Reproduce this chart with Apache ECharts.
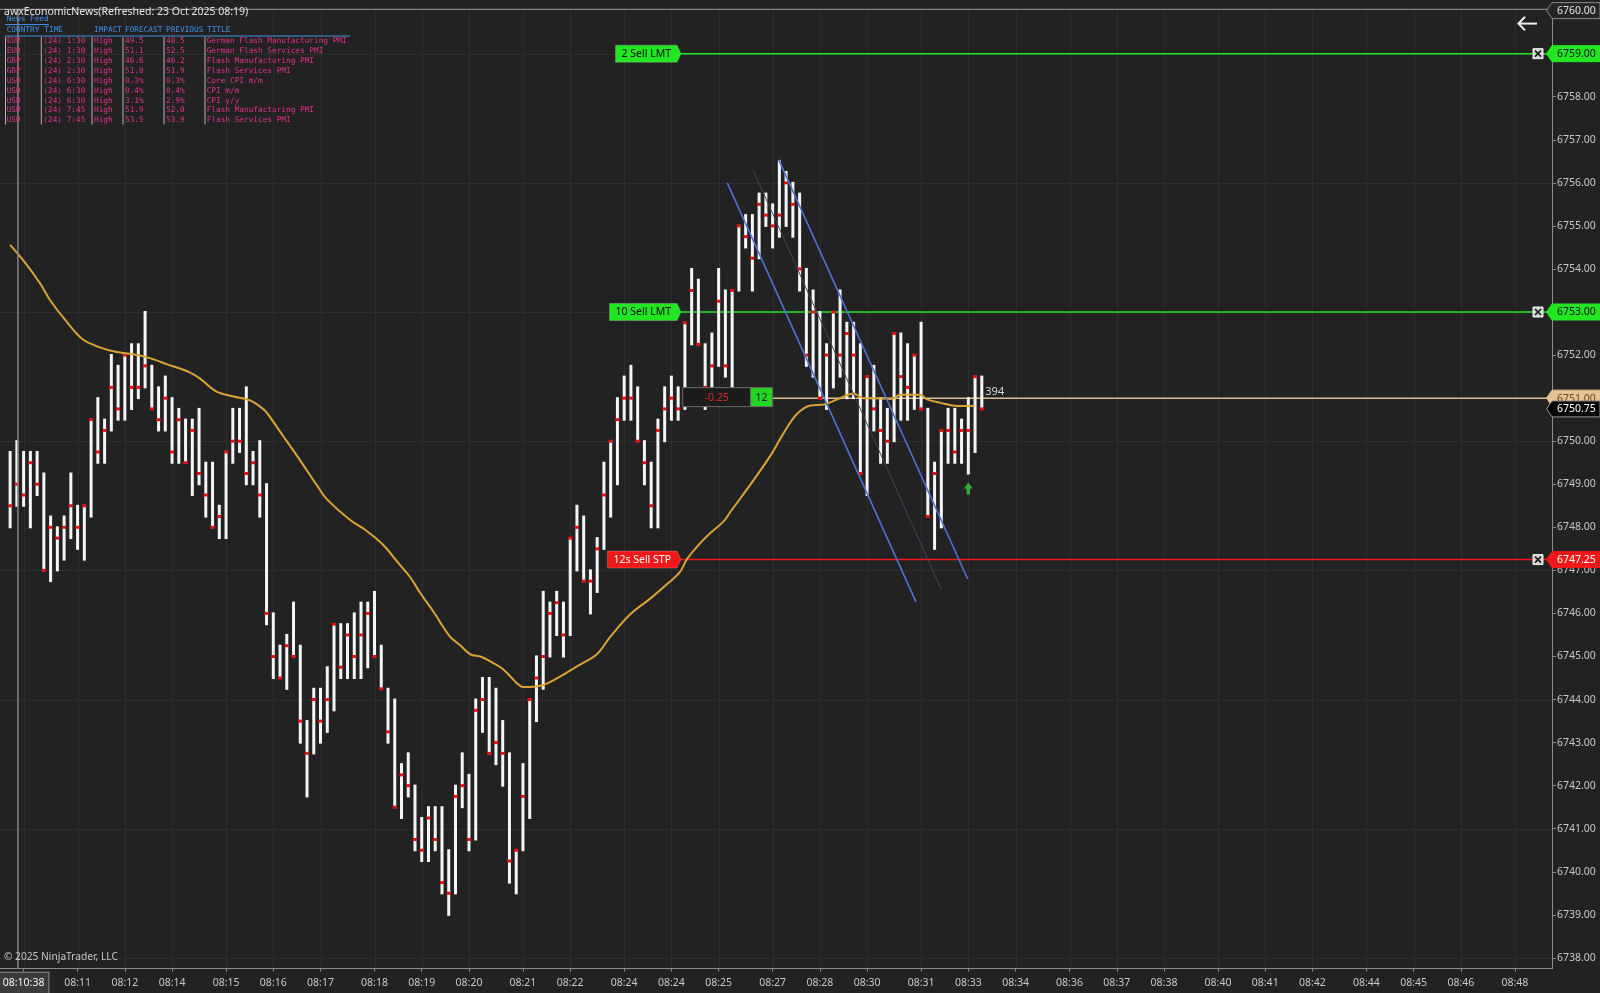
<!DOCTYPE html>
<html>
<head>
<meta charset="utf-8">
<script src="https://cdn.jsdelivr.net/npm/echarts@6/dist/echarts.min.js"></script>
<style>
html,body{margin:0;padding:0;background:#222222;}
#chart{width:1600px;height:993px;}
</style>
</head>
<body>
<div id="chart"></div>
<script>
// ---------------- DATA ----------------
const highs = [6749.75,6750.0,6749.75,6749.75,6749.75,6749.25,6748.25,6748.0,6748.25,6749.25,
6748.5,6748.5,6750.5,6751.0,6750.5,6752.0,6751.75,6752.0,6752.25,6752.25,
6753.0,6751.75,6751.25,6751.5,6751.0,6750.75,6750.5,6750.5,6750.75,6749.5,
6749.5,6748.5,6749.75,6750.75,6750.75,6751.25,6749.75,6750.0,6749.0,6746.0,
6745.25,6745.5,6746.25,6745.25,6743.5,6744.25,6744.25,6744.75,6745.75,6745.75,
6745.75,6746.0,6746.25,6746.25,6746.5,6745.25,6744.25,6744.0,6742.5,6742.75,
6742.0,6741.25,6741.5,6741.5,6741.5,6740.5,6742.0,6742.75,6742.25,6744.0,
6744.5,6744.5,6744.25,6743.5,6742.75,6740.5,6742.5,6744.0,6745.0,6746.5,
6746.25,6746.5,6746.25,6747.75,6748.5,6748.25,6747.0,6747.75,6749.5,6750.0,
6751.0,6751.5,6751.75,6751.25,6750.0,6749.5,6750.5,6751.25,6751.5,6751.25,
6752.75,6754.0,6753.75,6752.25,6752.5,6754.0,6753.5,6753.5,6755.0,6755.25,
6755.25,6755.75,6755.75,6755.5,6756.5,6756.25,6756.0,6755.75,6754.0,6753.5,
6753.0,6752.25,6753.0,6753.5,6752.75,6752.75,6752.25,6751.5,6751.75,6751.0,
6750.75,6752.5,6752.5,6752.25,6752.0,6752.75,6750.75,6749.5,6750.25,6750.75,
6750.75,6750.5,6751.0,6751.5,6751.5];
const lows = [6748.0,6748.5,6748.5,6748.0,6748.75,6747.0,6746.75,6747.0,6747.25,6747.75,
6747.5,6747.25,6748.25,6749.5,6749.5,6750.25,6750.5,6750.5,6750.75,6751.0,
6751.25,6750.75,6750.25,6750.25,6749.5,6749.5,6749.5,6748.75,6749.0,6748.25,
6748.0,6747.75,6747.75,6749.5,6749.75,6749.0,6749.0,6748.25,6745.75,6744.5,
6744.5,6744.25,6745.0,6743.0,6741.75,6742.75,6743.0,6743.25,6743.75,6744.5,
6744.5,6744.5,6744.5,6744.75,6745.0,6744.25,6743.0,6741.5,6741.25,6741.75,
6740.5,6740.25,6740.25,6740.5,6739.5,6739.0,6739.5,6741.5,6740.5,6740.75,
6743.25,6742.75,6742.5,6742.0,6739.75,6739.5,6740.5,6741.25,6743.5,6744.25,
6745.0,6745.5,6745.0,6745.5,6747.0,6746.75,6746.0,6746.5,6747.5,6748.25,
6749.0,6750.5,6750.5,6750.0,6749.0,6748.0,6748.0,6750.0,6750.5,6750.5,
6750.75,6752.25,6752.25,6750.75,6751.25,6751.75,6751.5,6751.25,6753.5,6754.5,
6753.5,6754.25,6755.0,6754.5,6754.75,6755.0,6754.75,6753.5,6751.75,6751.5,
6751.0,6750.75,6751.25,6751.5,6751.0,6751.0,6749.25,6748.75,6750.25,6749.5,
6749.5,6750.0,6750.5,6750.5,6750.75,6750.75,6748.25,6747.5,6748.0,6749.5,
6749.5,6749.5,6749.25,6749.75,6750.75];
const closes = [6748.5,6749.0,6748.75,6749.5,6749.0,6747.0,6748.0,6747.75,6748.0,6748.5,
6748.0,6748.5,6750.5,6749.75,6750.25,6751.25,6750.75,6752.0,6751.25,6751.25,
6751.75,6750.75,6750.5,6751.0,6749.75,6750.5,6749.5,6750.25,6749.25,6748.75,
6748.0,6748.25,6749.75,6750.0,6750.0,6749.25,6749.5,6748.75,6746.0,6745.0,
6744.5,6745.25,6745.0,6743.5,6742.75,6744.0,6743.5,6744.0,6745.75,6744.75,
6745.5,6745.0,6745.5,6746.0,6745.0,6744.25,6743.25,6741.5,6742.25,6742.0,
6740.75,6740.5,6741.25,6740.75,6739.75,6739.5,6741.75,6742.0,6740.75,6743.75,
6744.0,6742.75,6743.0,6742.75,6740.25,6740.5,6741.75,6744.0,6744.5,6745.0,
6746.0,6746.25,6745.5,6747.75,6748.0,6746.75,6746.75,6747.5,6748.75,6750.0,
6750.5,6751.0,6751.0,6750.0,6749.5,6748.5,6750.25,6750.75,6751.0,6750.75,
6752.75,6753.5,6752.25,6751.25,6751.75,6753.25,6751.75,6753.5,6755.0,6754.75,
6754.25,6755.5,6755.25,6755.0,6755.25,6756.0,6755.5,6754.0,6752.0,6753.0,
6751.0,6752.0,6753.0,6752.0,6752.5,6752.0,6749.25,6751.5,6750.75,6750.25,
6750.0,6752.5,6751.5,6751.25,6752.0,6750.75,6748.25,6749.25,6750.25,6750.25,
6749.75,6750.25,6750.25,6751.5,6750.75];

// moving average, read at sampled bar positions
const maBars = [0,2.3,4.5,5.9,8.4,10.8,13.3,15.8,18.2,20.7,23.2,26.6,28.1,30.6,33.1,35.5,37.0,38.0,40.5,43.0,
45.4,46.9,50.4,52.9,55.3,57.8,59.3,60.8,62.7,65.2,66.7,68.2,69.7,71.1,73.1,75.1,76.1,78.6,81.0,84.0,
87.0,88.9,91.9,94.9,97.8,99.3,100.3,101.8,103.3,105.8,106.7,109.7,112.7,114.6,116.6,118.6,120.6,122.6,125.0,126.5,
128.0,130.5,132.0,134.9,135.9,137.9,140.4,142.9];
const maValues = [6754.56,6754.13,6753.65,6753.28,6752.77,6752.36,6752.18,6752.07,6752.02,6751.93,6751.79,6751.60,6751.46,6751.15,6751.04,6750.95,6750.81,6750.67,6750.11,6749.55,
6748.99,6748.66,6748.17,6747.91,6747.59,6747.12,6746.84,6746.47,6746.05,6745.46,6745.26,6745.05,6745.00,6744.89,6744.70,6744.38,6744.29,6744.32,6744.49,6744.77,
6745.06,6745.45,6745.98,6746.35,6746.74,6746.97,6747.26,6747.55,6747.80,6748.15,6748.35,6748.99,6749.67,6750.18,6750.63,6750.83,6750.85,6750.97,6751.11,6751.00,
6751.00,6750.98,6751.08,6751.08,6750.97,6750.89,6750.82,6750.82];

const tickBars = [2,10,17,24,32,39,46,54,61,68,76,83,91,98,105,113,120,127,135,142,149,157,164,171,179,186,193,201,208,215,223];
const tickLabels = ['08:10:38','08:11','08:12','08:14','08:15','08:16','08:17','08:18','08:19','08:20','08:21','08:22','08:24','08:24','08:25','08:27','08:28','08:30','08:31','08:33','08:34','08:36','08:37','08:38','08:40','08:41','08:42','08:44','08:45','08:46','08:48'];
const priceLabels = [6738,6739,6740,6741,6742,6743,6744,6745,6746,6747,6748,6749,6750,6751,6752,6753,6754,6755,6756,6757,6758,6759];
const gridLevels = [6738,6741,6744,6747,6750,6753,6756,6759];

const orderNames = ['2 Sell LMT','10 Sell LMT','12s Sell STP'];
const orderPrices = [6759.00, 6753.00, 6747.25];
const positionPrice = 6751.00, positionPnl = '-0.25', positionQty = '12';
const lastPrice = 6750.75, axisTopPrice = 6760.00, tickCounter = '394';

// drawn channel (bar index, price)
const channelStartBar = [106.28, 113.9, 110.13];
const channelStartPrice = [6756.0, 6756.54, 6756.29];
const channelEndBar = [134.24, 141.91, 138.05];
const channelEndPrice = [6746.27, 6746.80, 6746.54];

const signalBars = [142];
const signalPrices = [6748.9];
const crosshairBar = 1.15;
const orderTagBar = 99.42;
const positionLineBar = 113.0;

const newsCountry = ['EUR','EUR','GBP','GBP','USD','USD','USD','USD','USD'];
const newsTime = ['(24) 1:30','(24) 1:30','(24) 2:30','(24) 2:30','(24) 6:30','(24) 6:30','(24) 6:30','(24) 7:45','(24) 7:45'];
const newsImpact = ['High','High','High','High','High','High','High','High','High'];
const newsForecast = ['49.5','51.1','46.6','51.0','0.3%','0.4%','3.1%','51.9','53.5'];
const newsPrevious = ['48.5','52.5','46.2','51.9','0.3%','0.4%','2.9%','52.0','53.9'];
const newsTitle = ['German Flash Manufacturing PMI','German Flash Services PMI','Flash Manufacturing PMI','Flash Services PMI','Core CPI m/m','CPI m/m','CPI y/y','Flash Manufacturing PMI','Flash Services PMI'];
const newsHeaders = ['COUNTRY','TIME','IMPACT','FORECAST','PREVIOUS','TITLE'];

// ---------------- LAYOUT / STYLE ----------------
const BAR_OFFSET = 1.5;     // bar i sits in slot i+1 of the x scale
const SLOTS = 230;
const GRID_RIGHT = 48;
const FONT = '"Segoe UI","Noto Sans","Open Sans",sans-serif';
const MONO = '"DejaVu Sans Mono","Liberation Mono",monospace';
const AXIS_COLOR = '#8c8c8c';
const TEXT_COLOR = '#c8c8c8';
const GRID_COLOR = '#2e2e2e';
const FS = 10.5;

const chart = echarts.init(document.getElementById('chart'), null, {renderer:'canvas'});

const barData = highs.map((h, i) => [i + BAR_OFFSET, h, lows[i], closes[i]]);
const tickValues = tickBars.map(b => b + BAR_OFFSET);

function lineSeries(points, color, width, z) {
  return {type:'line', data: points, symbol:'none', silent:true, animation:false, z: z,
          lineStyle:{color: color, width: width}, xAxisIndex:0, yAxisIndex:0};
}

const series = [
  {type:'custom', z:0, silent:true, animation:false,
   data: gridLevels.map(p => [0, p]),
   renderItem(params, api) {
     const cs = params.coordSys; const y = Math.round(api.coord([0, api.value(1)])[1]) + 0.5;
     return {type:'line', shape:{x1:cs.x, y1:y, x2:cs.x+cs.width, y2:y}, style:{stroke:GRID_COLOR, lineWidth:1}};
   }},
  {type:'custom', z:0, silent:true, animation:false,
   data: tickValues.map(v => [v, 6750]),
   renderItem(params, api) {
     const cs = params.coordSys; const x = Math.round(api.coord([api.value(0), 6750])[0]) + 0.5;
     return {type:'line', shape:{x1:x, y1:cs.y, x2:x, y2:cs.y+cs.height}, style:{stroke:GRID_COLOR, lineWidth:1}};
   }},
  lineSeries([[orderTagBar + BAR_OFFSET, orderPrices[0]],[SLOTS, orderPrices[0]]], '#22e622', 1.5, 2),
  lineSeries([[orderTagBar + BAR_OFFSET, orderPrices[1]],[SLOTS, orderPrices[1]]], '#22e622', 1.5, 2),
  lineSeries([[orderTagBar + BAR_OFFSET, orderPrices[2]],[SLOTS, orderPrices[2]]], '#f01818', 1.5, 2),
  lineSeries([[positionLineBar + BAR_OFFSET, positionPrice],[SLOTS, positionPrice]], '#e2c190', 1.5, 2),
  {type:'custom', z:3, silent:true, animation:false, data: barData,
   renderItem(params, api) {
     const x = api.value(0);
     const pH = api.coord([x, api.value(1)]);
     const pL = api.coord([x, api.value(2)]);
     const pC = api.coord([x, api.value(3)]);
     return {type:'group', children:[
       {type:'rect', shape:{x:pH[0]-1.5, y:pH[1]-1, width:3, height:pL[1]-pH[1]+2}, style:{fill:'#f6f6f6'}},
       {type:'rect', shape:{x:pC[0]-2.2, y:pC[1]-1.5, width:4.4, height:3}, style:{fill:'#dd1414'}}
     ]};
   }},
  {type:'line', z:5, silent:true, animation:false, symbol:'none', smooth:0.35,
   data: maBars.map((b, i) => [b + BAR_OFFSET, maValues[i]]),
   lineStyle:{color:'#dba234', width:2}},
  lineSeries([[channelStartBar[0]+BAR_OFFSET, channelStartPrice[0]],[channelEndBar[0]+BAR_OFFSET, channelEndPrice[0]]], '#4d72d6', 1.6, 6),
  lineSeries([[channelStartBar[1]+BAR_OFFSET, channelStartPrice[1]],[channelEndBar[1]+BAR_OFFSET, channelEndPrice[1]]], '#4d72d6', 1.6, 6),
  lineSeries([[channelStartBar[2]+BAR_OFFSET, channelStartPrice[2]],[channelEndBar[2]+BAR_OFFSET, channelEndPrice[2]]], '#3a4560', 1, 6),
  {type:'scatter', z:7, silent:true, animation:false,
   data: signalBars.map((b, i) => [b + BAR_OFFSET, signalPrices[i]]),
   symbol:'path://M5,0 L10,6 L7,6 L7,12 L3,12 L3,6 L0,6 Z', symbolSize:[9,12],
   itemStyle:{color:'#33cf3c'}}
];

const option = {
  backgroundColor:'#222222',
  animation:false,
  grid:{left:0, right:GRID_RIGHT, top:10.6, bottom:24.33, containLabel:false, outerBoundsMode:'none'},
  xAxis:{type:'value', min:0, max:SLOTS,
    axisLine:{show:true, onZero:false, lineStyle:{color:AXIS_COLOR, width:1}},
    axisTick:{show:true, customValues: tickValues, length:3, lineStyle:{color:AXIS_COLOR}},
    axisLabel:{show:true, customValues: tickValues, margin:4, color:TEXT_COLOR, fontSize:FS, fontFamily:FONT,
      formatter:(v) => {
        const k = tickBars.indexOf(Math.round(v - BAR_OFFSET));
        if (k < 0) return '';
        return k === 0 ? '{box|' + tickLabels[k] + '}' : '{t|' + tickLabels[k] + '}';
      },
      rich:{
        t:{padding:[5,0,0,0], color:TEXT_COLOR, fontSize:FS, fontFamily:FONT},
        box:{backgroundColor:'#3b3b3b', borderColor:'#8a8a8a', borderWidth:1, padding:[5,4,7,4],
             color:'#f4f4f4', fontSize:FS, fontFamily:FONT}}},
    splitLine:{show:false}},
  yAxis:{type:'value', position:'right', min:6737.75, max:6760,
    axisLine:{show:true, onZero:false, lineStyle:{color:AXIS_COLOR, width:1}},
    axisTick:{show:true, customValues: priceLabels, length:4, lineStyle:{color:AXIS_COLOR}},
    axisLabel:{show:true, customValues: priceLabels, margin:5, color:TEXT_COLOR, fontSize:FS, fontFamily:FONT,
      formatter:(v) => v.toFixed(2)},
    splitLine:{show:false}},
  series: series
};
chart.setOption(option);

// ---------------- OVERLAYS (positions from the chart's own scales) ----------------
const P = (bar, price) => chart.convertToPixel({xAxisIndex:0, yAxisIndex:0}, [bar + BAR_OFFSET, price]);
const W = chart.getWidth();
const gridRight = P(SLOTS - BAR_OFFSET, 6750)[0];
const topY = P(0, axisTopPrice)[1];
const botY = P(0, 6737.75)[1];
const mctx = document.createElement('canvas').getContext('2d');
function measure(t, font) { mctx.font = font; return mctx.measureText(t).width; }

function txt(x, y, text, fill, font, align, z) {
  return {type:'text', z: z || 40, x:x, y:y, silent:true,
    style:{text:text, fill:fill, font:font, align:align||'left', textAlign:align||'left',
           verticalAlign:'middle', textVerticalAlign:'middle'}};
}
function hline(x1, x2, y, stroke, w, z) {
  return {type:'line', z:z||40, silent:true, shape:{x1:x1, y1:y, x2:x2, y2:y}, style:{stroke:stroke, lineWidth:w||1}};
}
function vline(x, y1, y2, stroke, w, z) {
  return {type:'line', z:z||40, silent:true, shape:{x1:x, y1:y1, x2:x, y2:y2}, style:{stroke:stroke, lineWidth:w||1}};
}

const g = [];
g.push(hline(0, gridRight, topY - 1.3, '#9c9c9c', 1, 30));
const cx = P(crosshairBar, 6750)[0];
g.push(vline(cx, topY - 1.3, botY, '#858585', 1.5, 30));

g.push(txt(4, 12.5, 'awxEconomicNews(Refreshed: 23 Oct 2025 08:19)', '#e2e2e2', '10.5px ' + FONT, 'left', 41));

const BLUE = '#3f8fe6', PINK = '#e2318a';
const monoFont = '7.75px ' + MONO;
g.push(txt(6.7, 19.3, 'News Feed', BLUE, monoFont));
g.push(hline(5, 49, 24.5, BLUE, 1));
const headX = [6.7, 44.3, 94, 125, 166, 207];
newsHeaders.forEach((h, i) => g.push(txt(headX[i], 30.3, h, BLUE, monoFont)));
g.push(hline(5, 350, 36, BLUE, 1));
const colX = [6.7, 43.3, 94, 125, 166, 206.7];
const sepX = [5.5, 41.3, 92, 123, 164, 205];
sepX.forEach(x => g.push(vline(x, 37, 124.5, '#b4b4b4', 1)));
newsCountry.forEach((c, r) => {
  const y = 41.3 + r * 9.87;
  [c, newsTime[r], newsImpact[r], newsForecast[r], newsPrevious[r], newsTitle[r]].forEach((t, i) => {
    g.push(txt(colX[i], y, t, PINK, monoFont));
  });
});

g.push(txt(4, 957.2, '\u00a9 2025 NinjaTrader, LLC', '#c4c4c4', '10.2px ' + FONT));

g.push({type:'polyline', z:40, silent:true, shape:{points:[[1525,16.8],[1518.5,23.6],[1525,30.4]]}, style:{stroke:'#f0f0f0', lineWidth:2, fill:null}});
g.push(hline(1518.5, 1537, 23.6, '#f0f0f0', 2));

function tagRight(price, text, fill, stroke, color) {
  const y = P(0, price)[1]; const h = 16;
  const pts = [[gridRight - 5.5, y], [gridRight, y - h/2], [W, y - h/2], [W, y + h/2], [gridRight, y + h/2]];
  g.push({type:'polygon', z:60, silent:true, shape:{points:pts}, style:{fill:fill, stroke:stroke, lineWidth:1}});
  g.push(txt(gridRight + 5, y + 0.5, text, color, FS + 'px ' + FONT, 'left', 61));
}
tagRight(axisTopPrice, axisTopPrice.toFixed(2), '#252525', '#8a8a8a', '#e4e4e4');
tagRight(orderPrices[0], orderPrices[0].toFixed(2), '#22e622', '#22e622', '#101010');
tagRight(orderPrices[1], orderPrices[1].toFixed(2), '#22e622', '#22e622', '#101010');
tagRight(positionPrice, positionPrice.toFixed(2), '#e6c392', '#e6c392', '#6b4a26');
tagRight(lastPrice, lastPrice.toFixed(2), '#050505', '#9a9a9a', '#ffffff');
tagRight(orderPrices[2], orderPrices[2].toFixed(2), '#f01818', '#f01818', '#ffffff');

orderPrices.forEach(p => {
  const y = P(0, p)[1]; const x = gridRight - 14;
  g.push({type:'rect', z:62, silent:true, shape:{x:x-5, y:y-5, width:10, height:10}, style:{fill:'#d4d4d4', stroke:'#f2f2f2', lineWidth:1}});
  g.push({type:'line', z:63, silent:true, shape:{x1:x-3, y1:y-3, x2:x+3, y2:y+3}, style:{stroke:'#1a1a1a', lineWidth:1.6}});
  g.push({type:'line', z:63, silent:true, shape:{x1:x+3, y1:y-3, x2:x-3, y2:y+3}, style:{stroke:'#1a1a1a', lineWidth:1.6}});
});

const orderFill = ['#22e622', '#22e622', '#f01818'];
const orderText = ['#0a0a0a', '#0a0a0a', '#ffffff'];
orderNames.forEach((name, i) => {
  const pt = P(orderTagBar, orderPrices[i]); const tipX = pt[0], y = pt[1];
  const f = FS + 'px ' + FONT; const w = measure(name, f) + 12; const h = 17; const tip = 4;
  const x0 = tipX - tip - w;
  g.push({type:'polygon', z:60, silent:true, shape:{points:[[x0, y-h/2],[tipX-tip, y-h/2],[tipX, y],[tipX-tip, y+h/2],[x0, y+h/2]]},
          style:{fill:orderFill[i], stroke:'rgba(255,255,255,0.25)', lineWidth:0.8}});
  g.push(txt(x0 + 6, y + 0.5, name, orderText[i], f, 'left', 61));
});

(function(){
  const pt = P(orderTagBar, positionPrice); const x0 = pt[0] + 1.7, y = pt[1] - 1;
  const h = 19;
  g.push({type:'rect', z:60, silent:true, shape:{x:x0, y:y-h/2, width:68, height:h}, style:{fill:'#1c1c1c', stroke:'#6a6a6a', lineWidth:1}});
  g.push(txt(x0 + 34, y + 0.5, positionPnl, '#d42a2a', FS + 'px ' + FONT, 'center', 61));
  g.push({type:'rect', z:60, silent:true, shape:{x:x0 + 68, y:y-h/2, width:21.7, height:h}, style:{fill:'#22d622', stroke:'#6a6a6a', lineWidth:1}});
  g.push(txt(x0 + 68 + 10.85, y + 0.5, positionQty, '#1a1a1a', FS + 'px ' + FONT, 'center', 61));
})();

(function(){
  const pt = P(highs.length - 1, positionPrice);
  g.push(txt(pt[0] + 3.5, pt[1] - 6, tickCounter, '#d8d8d8', '11px ' + FONT, 'left', 61));
})();

chart.setOption({graphic:{elements:g}});
</script>
</body>
</html>
